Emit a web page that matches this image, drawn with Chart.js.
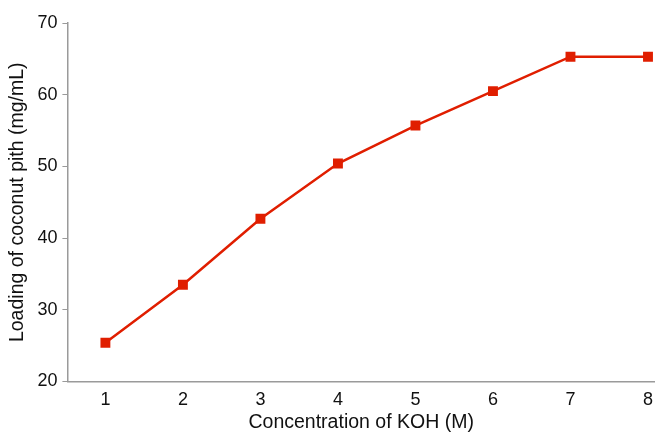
<!DOCTYPE html>
<html>
<head>
<meta charset="utf-8">
<script src="https://cdn.jsdelivr.net/npm/chart.js@4/dist/chart.umd.min.js"></script>
<style>
  html, body { margin: 0; padding: 0; background: #fff; }
  #wrap { width: 655px; height: 432px; }
</style>
</head>
<body>
<div id="wrap"><canvas id="kohChart"></canvas></div>
<script>
const concentration = [1, 2, 3, 4, 5, 6, 7, 8];
const loading = [25.4, 33.5, 42.7, 50.4, 55.7, 60.5, 65.3, 65.3];
const xTicks = [1, 2, 3, 4, 5, 6, 7, 8];
const yTicks = [20, 30, 40, 50, 60, 70];

const axisGray = '#9a9a9a';
const lineRed = '#e01e00';
const fontFamily = 'Liberation Sans, Arial, Helvetica, sans-serif';

const kohChart = document.getElementById('kohChart');

const kohChart_1 = new Chart(kohChart, {
  type: 'line',
  data: {
    datasets: [
      {
        label: 'Loading',
        data: concentration.map((x, i) => ({ x: x, y: loading[i] })),
        borderColor: lineRed,
        backgroundColor: lineRed,
        borderWidth: 2.5,
        pointStyle: 'rect',
        pointRadius: 7,
        pointBorderWidth: 0,
        tension: 0,
      }
    ],
  },
  options: {
    responsive: true,
    maintainAspectRatio: false,
    animation: false,
    layout: {
      autoPadding: false,
      padding: { top: 23, right: 0, left: 6, bottom: 0 }
    },
    scales: {
      x: {
        type: 'linear',
        min: 0.51,
        max: 8.09,
        afterBuildTicks: (axis) => { axis.ticks = xTicks.map(v => ({ value: v })); },
        grid: {
          display: false,
        },
        border: {
          display: true,
          color: axisGray,
          width: 1.5,
        },
        ticks: {
          color: '#111',
          padding: 2,
          maxRotation: 0,
          font: { family: fontFamily, size: 18, lineHeight: 1.0 },
        },
        title: {
          display: true,
          text: 'Concentration of KOH (M)',
          color: '#111',
          padding: { top: 1, bottom: 0 },
          font: { family: fontFamily, size: 19.5, lineHeight: 1.0 },
        }
      },
      y: {
        min: 20,
        max: 70,
        afterBuildTicks: (axis) => { axis.ticks = yTicks.map(v => ({ value: v })); },
        grid: {
          drawOnChartArea: false,
          drawTicks: true,
          tickLength: 5,
          color: axisGray,
        },
        border: {
          display: true,
          color: axisGray,
          width: 1.5,
        },
        ticks: {
          color: '#111',
          padding: 5,
          font: { family: fontFamily, size: 18 },
        },
        title: {
          display: true,
          text: 'Loading of coconut pith (mg/mL)',
          color: '#111',
          padding: { top: 0, bottom: 3 },
          font: { family: fontFamily, size: 19.5 },
        }
      }
    },
    plugins: {
      legend: { display: false },
      tooltip: { enabled: false },
    }
  },
});
</script>
</body>
</html>
